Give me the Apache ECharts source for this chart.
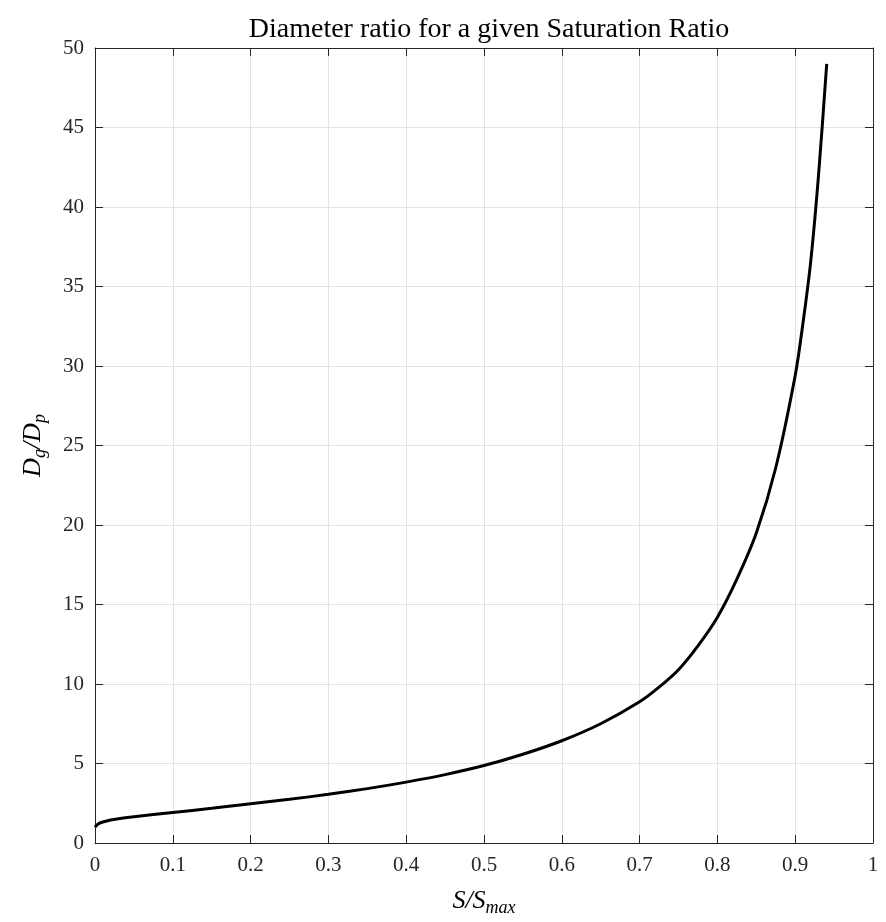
<!DOCTYPE html>
<html>
<head>
<meta charset="utf-8">
<script src="https://cdn.jsdelivr.net/npm/echarts@6/dist/echarts.min.js"></script>
<style>
  html, body { margin: 0; padding: 0; background: #fff; }
  #chart { width: 886px; height: 922px; }
</style>
</head>
<body>
<div id="chart"></div>
<script>
// S/Smax values and the matching diameter ratio Dg/Dp
const sRatio = [0, 0.004, 0.01, 0.02, 0.03, 0.05, 0.1, 0.15, 0.2, 0.25, 0.3, 0.35, 0.4, 0.45, 0.5,
                0.55, 0.6, 0.65, 0.7, 0.725, 0.75, 0.775, 0.8, 0.825, 0.85, 0.875, 0.9,
                0.91, 0.92, 0.93, 0.9405];
const dRatio = [1.0, 1.2, 1.32, 1.45, 1.53, 1.65, 1.92, 2.18, 2.47, 2.75, 3.06, 3.42, 3.83, 4.3, 4.87,
                5.58, 6.43, 7.5, 8.88, 9.8, 10.9, 12.4, 14.2, 16.6, 19.5, 23.6, 29.4,
                32.7, 36.6, 42, 49];

const serif = '"Liberation Serif", "DejaVu Serif", serif';
const axisColor = '#262626';
const gridColor = '#e3e3e3';

const chart = echarts.init(document.getElementById('chart'));

// mirrored axes for the top / right sides of the box (ticks only)
const boxAxis = {
    type: 'value',
    min: 0,
    axisLine: { show: true, onZero: false, lineStyle: { color: axisColor, width: 1 } },
    axisTick: { show: true, inside: true, length: 8, lineStyle: { color: axisColor } },
    axisLabel: { show: false },
    splitLine: { show: false }
};

const nameRich = {
    i: { fontFamily: serif, fontStyle: 'italic', fontSize: 26, color: '#000' },
    sub: { fontFamily: serif, fontStyle: 'italic', fontSize: 18, color: '#000', padding: [14, 0, 0, 0] }
};

chart.setOption({
    animation: false,
    backgroundColor: '#fff',
    title: {
        text: 'Diameter ratio for a given Saturation Ratio',
        left: 484,
        textAlign: 'center',
        top: 11,
        textStyle: { fontFamily: serif, fontWeight: 'normal', fontSize: 28, color: '#000' }
    },
    grid: { left: 95, right: 13, top: 48, bottom: 73 },
    xAxis: [
        {
            type: 'value',
            min: 0, max: 1, interval: 0.1,
            name: '{i|S}{i|/}{i|S}{sub|max}',
            nameLocation: 'middle',
            nameGap: 42,
            nameTextStyle: { fontFamily: serif, fontSize: 24, color: '#000', rich: nameRich },
            axisLine: { show: true, onZero: false, lineStyle: { color: axisColor } },
            axisTick: { show: true, inside: true, length: 8, lineStyle: { color: axisColor } },
            axisLabel: { fontFamily: serif, fontSize: 21, color: '#262626', margin: 12 },
            splitLine: { show: true, lineStyle: { color: gridColor, width: 1 } }
        },
        Object.assign({}, boxAxis, { position: 'top', max: 1, interval: 0.1 })
    ],
    yAxis: [
        {
            type: 'value',
            min: 0, max: 50, interval: 5,
            name: '{i|D}{sub|g}{i|/}{i|D}{sub|p}',
            nameLocation: 'middle',
            nameGap: 46,
            nameTextStyle: { fontFamily: serif, fontSize: 24, color: '#000', rich: nameRich },
            axisLine: { show: true, onZero: false, lineStyle: { color: axisColor } },
            axisTick: { show: true, inside: true, length: 8, lineStyle: { color: axisColor } },
            axisLabel: { fontFamily: serif, fontSize: 21, color: '#262626', margin: 11 },
            splitLine: { show: true, lineStyle: { color: gridColor, width: 1 } }
        },
        Object.assign({}, boxAxis, { position: 'right', max: 50, interval: 5 })
    ],
    series: [{
        type: 'line',
        data: sRatio.map((s, i) => [s, dRatio[i]]),
        smooth: 0.3,
        showSymbol: false,
        lineStyle: { color: '#000', width: 3 }
    }]
});
</script>
</body>
</html>
